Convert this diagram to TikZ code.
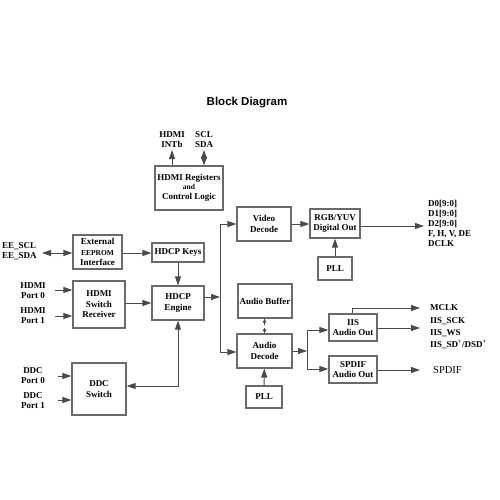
\documentclass[tikz,border=0pt]{standalone}
\usepackage{fontspec}
\setmainfont{Liberation Serif}
\newfontfamily\titlefont{Liberation Sans}
\usetikzlibrary{arrows.meta}
\definecolor{boxc}{HTML}{6A6A6A}
\definecolor{linec}{HTML}{4A4A4A}
\begin{document}
\begin{tikzpicture}[x=1pt,y=-1pt,
  blk/.style={draw=boxc,line width=1.2pt,rectangle,inner sep=0pt,align=center,
    font=\fontsize{9}{10.5}\selectfont\bfseries},
  lab/.style={inner sep=0pt,align=center,font=\fontsize{9}{10}\selectfont\bfseries},
  llab/.style={inner sep=0pt,align=left,anchor=west,font=\fontsize{9}{10}\selectfont\bfseries},
  arr/.style={draw=linec,line width=0.9pt,-{Triangle[length=9pt,width=6pt]}},
  darr/.style={draw=linec,line width=0.9pt,{Triangle[length=9pt,width=6pt]}-{Triangle[length=9pt,width=6pt]}},
  ln/.style={draw=linec,line width=0.9pt}]
\useasboundingbox (0,0) rectangle (500,500);
\fill[white] (0,0) rectangle (500,500);
\node[font=\titlefont\bfseries\fontsize{11.5}{13}\selectfont] (title) at (247,103) {Block Diagram};

% blocks
\node[blk,minimum width=68pt,minimum height=44pt] (reg) at (189,188) {HDMI Registers\\[-2pt]{\fontsize{7.5}{7.5}\selectfont and}\\Control Logic};
\node[blk,minimum width=49pt,minimum height=34pt] (ext) at (97.5,252) {External\\{\fontsize{7.5}{8}\selectfont EEPROM}\\Interface};
\node[blk,minimum width=52pt,minimum height=47pt] (hsr) at (99,304.5) {HDMI\\Switch\\Receiver};
\node[blk,minimum width=52pt,minimum height=19pt] (keys) at (178,252.5) {HDCP Keys};
\node[blk,minimum width=52pt,minimum height=34pt] (eng) at (178,303) {HDCP\\Engine};
\node[blk,minimum width=54pt,minimum height=52pt] (ddc) at (99,389) {DDC\\Switch};
\node[blk,minimum width=54pt,minimum height=34pt] (vid) at (264,224) {Video\\Decode};
\node[blk,minimum width=50pt,minimum height=29pt] (rgb) at (335,223.5) {RGB/YUV\\Digital Out};
\node[blk,minimum width=34pt,minimum height=23pt] (pllA) at (335,268.5) {PLL};
\node[blk,minimum width=54pt,minimum height=34pt] (buf) at (265,301) {Audio Buffer};
\node[blk,minimum width=55pt,minimum height=34pt] (adec) at (264.5,351) {Audio\\Decode};
\node[blk,minimum width=36pt,minimum height=22pt] (pllB) at (264,397) {PLL};
\node[blk,minimum width=48pt,minimum height=27pt] (iis) at (353,327.5) {IIS\\Audio Out};
\node[blk,minimum width=48pt,minimum height=27pt] (spd) at (353,369.5) {SPDIF\\Audio Out};

% labels
\node[lab] (intb) at (172,140) {HDMI\\INTb};
\node[lab] (scl) at (204,140) {SCL\\SDA};
\node[llab] (ee) at (2,251) {EE\_SCL\\EE\_SDA};
\node[lab] (hp0) at (33,291) {HDMI\\Port 0};
\node[lab] (hp1) at (33,316) {HDMI\\Port 1};
\node[lab] (dp0) at (33,376) {DDC\\Port 0};
\node[lab] (dp1) at (33,401) {DDC\\Port 1};
\node[llab,anchor=north west] (dout) at (428,200) {D0[9:0]\\D1[9:0]\\D2[9:0]\\F, H, V, DE\\DCLK};
\node[llab] (mclk) at (430,308) {MCLK};
\node[llab,anchor=north west,font=\fontsize{9}{12}\selectfont\bfseries] (iisl) at (430,317) {IIS\_SCK\\IIS\_WS\\IIS\_SD\textsuperscript{+}/DSD\textsuperscript{+}};
\node[llab,font=\fontsize{10.5}{12}\selectfont] (spdl) at (433,370) {SPDIF};

% coordinates
\coordinate (intbE) at (172,150);
\coordinate (sclE) at (204,150);
\coordinate (eeE) at (42,253);
\coordinate (hp0E) at (55,290);
\coordinate (hp1E) at (55,316);
\coordinate (dp0E) at (58,376);
\coordinate (dp1E) at (58,400);
\coordinate (vbus) at (220,297);
\coordinate (vtop) at (220,224);
\coordinate (vbot) at (220,352);
\coordinate (dE) at (424,226);
\coordinate (abus) at (307,351);
\coordinate (atop) at (307,330);
\coordinate (abot) at (307,369);
\coordinate (mclkT) at (352,308);
\coordinate (mclkE) at (420,308);
\coordinate (iisE) at (420,328);
\coordinate (spdE) at (420,370);
\coordinate (ddcC) at (178,386);

% connectors
\draw[arr] (reg.north -| intbE) -- (intbE);
\draw[darr] (reg.north -| sclE) -- (sclE);
\draw[darr] (eeE) -- (eeE -| ext.west);
\draw[arr] (ext.east |- eeE) -- (keys.west |- eeE);
\draw[arr] (hp0E) -- (hp0E -| hsr.west);
\draw[arr] (hp1E) -- (hp1E -| hsr.west);
\draw[arr] (hsr.east |- 0,303) -- (eng.west |- 0,303);
\draw[arr] (keys) -- (eng);
\draw[arr] (eng.east |- vbus) -- (vbus);
\draw[ln] (vtop) -- (vbot);
\draw[arr] (vtop) -- (vid.west |- vtop);
\draw[arr] (vbot) -- (adec.west |- vbot);
\draw[arr] (vid.east |- vtop) -- (rgb.west |- vtop);
\draw[arr] (pllA) -- (rgb);
\draw[arr] (rgb.east |- dE) -- (dE);
\draw[darr,dashed,{Triangle[length=4pt,width=3.5pt]}-{Triangle[length=4pt,width=3.5pt]}] (buf.south -| adec) -- (adec.north);
\draw[arr] (pllB) -- (adec);
\draw[arr] (adec.east |- abus) -- (abus);
\draw[ln] (atop) -- (abot);
\draw[arr] (atop) -- (atop -| iis.west);
\draw[arr] (abot) -- (abot -| spd.west);
\draw[arr] (iis.north -| mclkT) -- (mclkT) -- (mclkE);
\draw[arr] (iis.east |- iisE) -- (iisE);
\draw[arr] (spd.east |- spdE) -- (spdE);
\draw[arr] (dp0E) -- (dp0E -| ddc.west);
\draw[arr] (dp1E) -- (dp1E -| ddc.west);
\draw[darr] (ddc.east |- ddcC) -- (ddcC) -- (eng.south);
\end{tikzpicture}
\end{document}
